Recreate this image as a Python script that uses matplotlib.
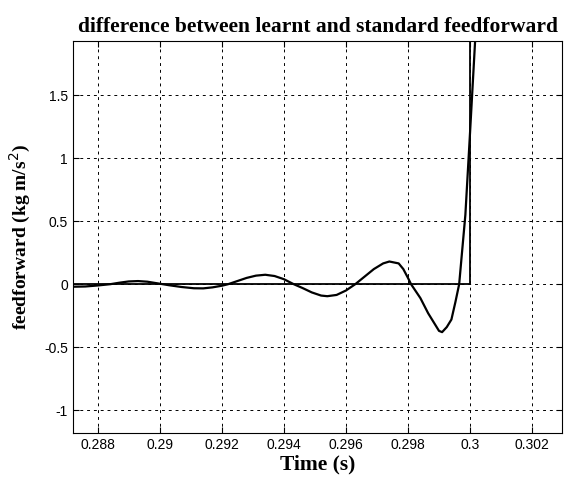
import matplotlib
matplotlib.use("Agg")
import matplotlib.pyplot as plt

# learnt feedforward minus standard
t_learnt = [0.2872, 0.2876, 0.2880, 0.2884, 0.2887, 0.2890, 0.2893, 0.2896,
            0.2899, 0.2903, 0.2907, 0.2911, 0.2914, 0.2917, 0.2920, 0.2922,
            0.2925, 0.2928, 0.2931, 0.2934, 0.2937, 0.2940, 0.29432, 0.2946,
            0.2949, 0.2952, 0.2954, 0.2957, 0.2960, 0.2963, 0.2966, 0.2969,
            0.2972, 0.2974, 0.2977, 0.29785, 0.2980, 0.2981, 0.2984, 0.29865,
            0.2989, 0.2990, 0.2991, 0.29925, 0.2994, 0.29953, 0.29965, 0.29985,
            0.3000, 0.30018]
v_learnt = [-0.02, -0.018, -0.01, 0.0, 0.012, 0.022, 0.025, 0.02,
            0.008, -0.008, -0.022, -0.032, -0.033, -0.025, -0.012, 0.0,
            0.025, 0.05, 0.068, 0.075, 0.065, 0.04, 0.0, -0.03,
            -0.065, -0.09, -0.095, -0.085, -0.05, 0.0, 0.06, 0.12,
            0.165, 0.18, 0.165, 0.12, 0.05, 0.0, -0.11, -0.23,
            -0.33, -0.37, -0.38, -0.34, -0.28, -0.14, 0.0, 0.55,
            1.2, 2.0]

# standard feedforward reference: flat then step at 0.3
t_std = [0.2872, 0.3, 0.3]
v_std = [0.0, 0.0, 2.5]

xticks = [0.288, 0.29, 0.292, 0.294, 0.296, 0.298, 0.3, 0.302]
xticklabels = ['0.288', '0.29', '0.292', '0.294', '0.296', '0.298', '0.3', '0.302']
yticks = [-1, -0.5, 0, 0.5, 1, 1.5]
yticklabels = ['-1', '-0.5', '0', '0.5', '1', '1.5']

fig = plt.figure(figsize=(5.65, 4.86), dpi=100)
ax = fig.add_axes([0.129, 0.109, 0.866, 0.807])

ax.plot(t_std, v_std, color='k', lw=1.3)
ax.plot(t_learnt, v_learnt, color='k', lw=1.6)

ax.set_xlim(0.2872, 0.30297)
ax.set_ylim(-1.18, 1.93)
ax.set_xticks(xticks)
ax.set_xticklabels(xticklabels)
ax.set_yticks(yticks)
ax.set_yticklabels(yticklabels)
ax.tick_params(direction='in', length=4, labelsize=10, top=True, right=True)
for lab in ax.get_xticklabels() + ax.get_yticklabels():
    lab.set_family('Liberation Sans')

ax.grid(True, color='k', linestyle=(0, (3, 4)), lw=0.7)

ax.set_title('difference between learnt and standard feedforward',
             family='Liberation Serif', fontweight='bold', fontsize=15.5, pad=6)
ax.set_xlabel('Time (s)', family='Liberation Serif', fontweight='bold',
              fontsize=15.5, labelpad=2)
ax.set_ylabel('feedforward (kg m/s$^2$)', family='Liberation Serif',
              fontweight='bold', fontsize=14, labelpad=8)

fig.savefig('out.png', dpi=100)
